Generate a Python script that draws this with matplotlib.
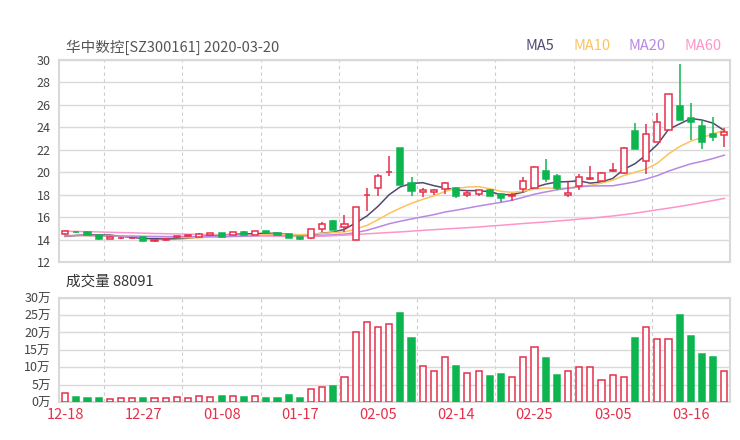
import matplotlib
matplotlib.use("Agg")
import matplotlib.pyplot as plt
import numpy as np
import pandas as pd

plt.rcParams['font.family'] = ['Noto Sans CJK SC', 'DejaVu Sans']

# trading days shown (12-18 .. 03-19)
dates = ['12-18', '12-19', '12-20', '12-23', '12-24', '12-25', '12-26', '12-27', '12-30', '12-31',
         '01-02', '01-03', '01-06', '01-07', '01-08', '01-09', '01-10', '01-13', '01-14', '01-15',
         '01-16', '01-17', '01-20', '01-21', '01-22', '01-23', '02-03', '02-04', '02-05', '02-06',
         '02-07', '02-10', '02-11', '02-12', '02-13', '02-14', '02-17', '02-18', '02-19', '02-20',
         '02-21', '02-24', '02-25', '02-26', '02-27', '02-28', '03-02', '03-03', '03-04', '03-05',
         '03-06', '03-09', '03-10', '03-11', '03-12', '03-13', '03-16', '03-17', '03-18', '03-19']

opens = [14.47, 14.68, 14.68, 14.38, 14.08, 14.12, 14.10, 14.20, 13.86, 13.95,
         14.20, 14.28, 14.27, 14.42, 14.60, 14.42, 14.68, 14.42, 14.76, 14.58,
         14.50, 14.24, 14.14, 14.96, 15.66, 15.08, 13.98, 17.95, 18.60, 20.00,
         22.12, 19.00, 18.20, 18.20, 18.48, 18.57, 17.97, 18.03, 18.41, 18.03,
         17.85, 18.48, 18.57, 20.10, 19.66, 17.93, 18.80, 19.40, 19.22, 20.07,
         19.90, 23.67, 21.00, 22.70, 23.80, 25.90, 24.80, 24.10, 23.40, 23.29]
closes = [14.74, 14.64, 14.40, 14.03, 14.20, 14.16, 14.18, 13.88, 13.97, 14.06,
          14.30, 14.37, 14.52, 14.56, 14.25, 14.68, 14.45, 14.74, 14.58, 14.40,
          14.12, 14.04, 14.94, 15.36, 14.85, 15.36, 16.90, 18.00, 19.70, 20.05,
          18.85, 18.35, 18.39, 18.38, 19.00, 17.91, 18.12, 18.39, 17.91, 17.67,
          17.94, 19.22, 20.49, 19.37, 18.62, 18.12, 19.55, 19.48, 19.90, 20.17,
          22.20, 22.05, 23.40, 24.50, 26.95, 24.65, 24.45, 22.70, 23.10, 23.58]
highs = [14.78, 14.78, 14.72, 14.40, 14.24, 14.22, 14.20, 14.22, 14.00, 14.10,
         14.35, 14.42, 14.55, 14.60, 14.62, 14.70, 14.72, 14.78, 14.80, 14.60,
         14.52, 14.26, 14.96, 15.55, 15.70, 16.20, 16.92, 18.55, 19.80, 21.45,
         22.15, 19.55, 18.57, 18.50, 19.10, 18.71, 18.41, 18.45, 18.47, 18.18,
         18.18, 19.55, 20.58, 21.15, 19.84, 19.15, 19.81, 20.55, 20.02, 20.85,
         22.25, 24.40, 24.30, 25.30, 27.00, 29.60, 26.20, 24.65, 24.90, 23.90]
lows = [14.42, 14.55, 14.38, 14.00, 14.05, 14.08, 14.06, 13.85, 13.74, 13.90,
        14.18, 14.25, 14.25, 14.40, 14.24, 14.40, 14.42, 14.40, 14.55, 14.38,
        14.10, 14.00, 14.02, 14.70, 14.82, 14.70, 13.95, 16.55, 17.90, 19.70,
        18.83, 17.90, 17.77, 17.95, 18.03, 17.73, 17.82, 17.85, 17.85, 17.32,
        17.46, 18.27, 18.47, 19.10, 18.41, 17.77, 18.41, 19.30, 19.20, 19.99,
        19.85, 22.05, 19.80, 22.70, 23.80, 24.65, 22.90, 22.10, 22.80, 22.27]

# estimated closes of the 19 sessions before 12-18 (feed the moving averages)
prev_closes = [14.30, 14.40, 14.50, 14.45, 14.35, 14.30, 14.20, 14.25, 14.30, 14.40,
               14.45, 14.50, 14.40, 14.35, 14.30, 14.20, 14.15, 14.10, 14.20]

# MA60
ma60 = [14.75, 14.72, 14.70, 14.68, 14.65, 14.62, 14.60, 14.57, 14.54, 14.52,
        14.50, 14.48, 14.46, 14.44, 14.42, 14.40, 14.38, 14.35, 14.33, 14.30,
        14.28, 14.28, 14.29, 14.30, 14.34, 14.39, 14.45, 14.51, 14.57, 14.63,
        14.68, 14.75, 14.82, 14.88, 14.94, 15.00, 15.06, 15.12, 15.20, 15.27,
        15.35, 15.43, 15.50, 15.57, 15.65, 15.73, 15.82, 15.90, 16.00, 16.10,
        16.22, 16.35, 16.50, 16.65, 16.80, 16.95, 17.12, 17.30, 17.48, 17.67]

# volume in 万 (10k shares)
volumes = [2.68, 1.34, 1.05, 1.05, 0.96, 1.25, 1.15, 1.25, 1.25, 1.05,
           1.44, 1.25, 1.73, 1.53, 1.63, 1.83, 1.30, 1.83, 1.15, 1.15,
           1.92, 1.15, 3.74, 4.22, 4.50, 7.29, 20.2, 22.9, 21.5, 22.5,
           25.5, 18.4, 10.35, 8.9, 13.0, 10.35, 8.25, 9.0, 7.48, 8.15,
           7.1, 12.85, 15.7, 12.55, 7.67, 9.0, 10.15, 10.2, 6.33, 7.77,
           7.1, 18.3, 21.7, 18.2, 18.0, 25.1, 19.0, 13.8, 13.0, 8.8091]

title = '华中数控[SZ300161] 2020-03-20'
last_volume = 88091
ma_names = ['MA5', 'MA10', 'MA20', 'MA60']
ma_colors = ['#4e4b6e', '#fcc35e', '#b887e6', '#ff94c9']

RED = '#e5304b'
GREEN = '#0db54f'
GRID = '#d9d9d9'
TEXT = '#444444'

n = len(dates)
x = np.arange(n)
o = np.array(opens)
c = np.array(closes)
h = np.array(highs)
l = np.array(lows)
up = c >= o

all_close = pd.Series(prev_closes + closes)
ma5 = all_close.rolling(5).mean().values[len(prev_closes):]
ma10 = all_close.rolling(10).mean().values[len(prev_closes):]
ma20 = all_close.rolling(20).mean().values[len(prev_closes):]
ma_series = [ma5, ma10, ma20, np.array(ma60)]

fig = plt.figure(figsize=(7.4, 4.4), dpi=100)
ax = fig.add_axes([59 / 740, 1 - 262 / 440, 671 / 740, 202 / 440])
axv = fig.add_axes([59 / 740, 1 - 402 / 440, 671 / 740, 104.3 / 440])

grid_x = np.arange(3.5, n, 7)
tick_idx = list(range(0, n, 7))

for a in (ax, axv):
    a.set_xlim(-0.55, n - 0.5)
    for gx in grid_x:
        a.axvline(gx, color='#cccccc', lw=0.8, ls=(0, (3, 3)), zorder=0)
    a.grid(axis='y', color=GRID, lw=1, zorder=0)
    a.set_axisbelow(True)
    for s in a.spines.values():
        s.set_color(GRID)
        s.set_linewidth(1.5)
    a.tick_params(length=0, labelsize=9, labelcolor=TEXT, pad=6)

# candles
w = 0.55
for i in range(n):
    col = RED if up[i] else GREEN
    top = max(o[i], c[i])
    bot = min(o[i], c[i])
    ax.vlines(x[i], top, h[i], color=col, lw=1.1, zorder=3)
    ax.vlines(x[i], l[i], bot, color=col, lw=1.1, zorder=3)
    body = max(top - bot, 0.04)
    if up[i]:
        ax.bar(x[i], body, w, bottom=bot, facecolor='white', edgecolor=col, lw=1.1, zorder=4)
    else:
        ax.bar(x[i], body, w, bottom=bot, facecolor=col, edgecolor=col, lw=1.1, zorder=4)

for ma, col in zip(ma_series, ma_colors):
    ax.plot(x, ma, color=col, lw=1.1, zorder=2)

ax.set_ylim(12, 30)
ax.set_yticks(range(12, 31, 2))
ax.set_xticks(tick_idx)
ax.set_xticklabels([])

# volume
vol = np.array(volumes) * 10000
for i in range(n):
    if up[i]:
        axv.bar(x[i], vol[i], w, facecolor='white', edgecolor=RED, lw=1.1, zorder=3)
    else:
        axv.bar(x[i], vol[i], w, facecolor=GREEN, edgecolor=GREEN, lw=1.1, zorder=3)
axv.set_ylim(0, 300000)
vt = np.arange(0, 300001, 50000)
axv.set_yticks(vt)
axv.set_yticklabels([f'{int(v / 10000)}万' for v in vt])
axv.set_xticks(tick_idx)
axv.set_xticklabels([dates[i] for i in tick_idx], fontsize=10.5, color=RED)
axv.tick_params(axis='x', labelcolor=RED, labelsize=10.5, pad=4)

fig.text(66 / 740, 1 - 47 / 440, title, fontsize=10.5, color='#555555', va='center', ha='left')
fig.text(66 / 740, 1 - 282 / 440, f'成交量 {last_volume}', fontsize=10.5, color='#333333',
         va='center', ha='left')
for name, col, px in zip(ma_names, ma_colors, [540, 592, 647, 703]):
    fig.text(px / 740, 1 - 46 / 440, name, fontsize=10.5, color=col, va='center', ha='center')

fig.savefig('out.png', dpi=100)
